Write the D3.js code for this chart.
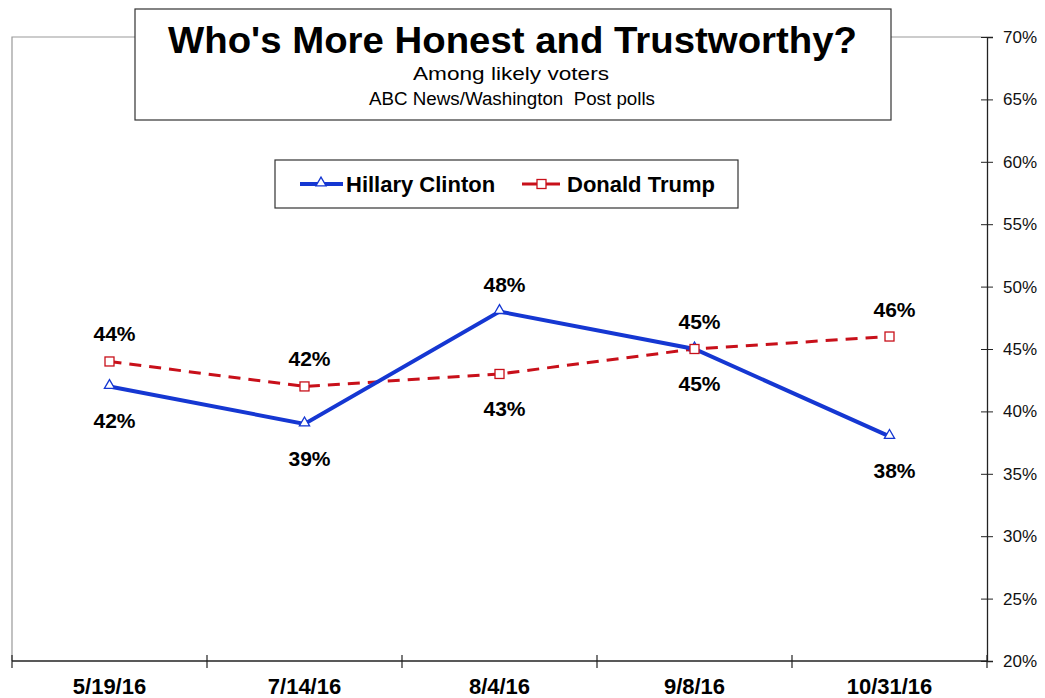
<!DOCTYPE html>
<html>
  <head>
    <meta charset="utf-8">
    <script src="https://d3js.org/d3.v7.min.js"></script>
    <style>
      body { margin: 0; background: #fff; }
      text { font-family: "Liberation Sans", Arial, sans-serif; }
    </style>
  </head>
  <body>
    <div id="chart"></div>
    <script type="text/javascript">
    // data
    var dates = ["5/19/16", "7/14/16", "8/4/16", "9/8/16", "10/31/16"];
    var clinton = [42, 39, 48, 45, 38];
    var trump = [44, 42, 43, 45, 46];
    var yTicks = [20, 25, 30, 35, 40, 45, 50, 55, 60, 65, 70];

    var width = 1045, height = 698;

    var svg = d3.select("#chart")
      .append("svg")
      .attr("width", width)
      .attr("height", height);

    //scales
    var x = d3.scaleBand().domain(dates).range([12, 987]);
    var y = d3.scaleLinear().domain([20, 70]).range([661, 37]);

    //gray frame on left and top
    svg.append("path")
      .attr("d", "M12,661V37H987")
      .attr("fill", "none")
      .attr("stroke", "#999")
      .attr("stroke-width", 1.2);

    //right y axis
    var yAxis = d3.axisRight(y)
      .tickValues(yTicks)
      .tickSize(6)
      .tickFormat(function(d){ return d + "%"; });
    var gy = svg.append("g").attr("transform", "translate(987,0)").call(yAxis);
    gy.select(".domain").attr("stroke", "#222").attr("stroke-width", 1.3);
    gy.selectAll(".tick line").attr("x1", -6).attr("x2", 6).attr("stroke", "#222");
    gy.selectAll(".tick text")
      .attr("x", 16)
      .attr("fill", "#111")
      .style("font-size", "17px")
      .style("font-family", "'Liberation Sans', Arial, sans-serif");

    //bottom x axis, ticks between categories
    svg.append("line")
      .attr("x1", 12).attr("x2", 987)
      .attr("y1", y(20)).attr("y2", y(20))
      .attr("stroke", "#222").attr("stroke-width", 1.3);
    var bounds = dates.map(function(d){ return x(d); }).concat([x.range()[1]]);
    svg.selectAll(".xtick")
      .data(bounds)
      .enter().append("line")
      .attr("class", "xtick")
      .attr("x1", function(d){ return d; }).attr("x2", function(d){ return d; })
      .attr("y1", y(20) - 6).attr("y2", y(20) + 7)
      .attr("stroke", "#222").attr("stroke-width", 1.2);
    svg.selectAll(".xlab")
      .data(dates)
      .enter().append("text")
      .attr("class", "xlab")
      .attr("x", function(d){ return x(d) + x.bandwidth() / 2; })
      .attr("y", 694)
      .attr("text-anchor", "middle")
      .style("font-size", "22px")
      .style("font-weight", "bold")
      .text(function(d){ return d; });

    var cx = function(d, i){ return x(dates[i]) + x.bandwidth() / 2; };

    //lines
    var line = d3.line()
      .x(function(d, i){ return cx(d, i); })
      .y(function(d){ return y(d); });

    svg.append("path")
      .datum(trump)
      .attr("d", line)
      .attr("fill", "none")
      .attr("stroke", "#c8101a")
      .attr("stroke-width", 3)
      .attr("stroke-dasharray", "12,8");

    svg.append("path")
      .datum(clinton)
      .attr("d", line)
      .attr("fill", "none")
      .attr("stroke", "#1537d2")
      .attr("stroke-width", 4);

    //markers
    var tri = d3.symbol().type(d3.symbolTriangle).size(45);
    svg.selectAll(".tri")
      .data(clinton)
      .enter().append("path")
      .attr("class", "tri")
      .attr("d", tri)
      .attr("transform", function(d, i){ return "translate(" + cx(d, i) + "," + (y(d) - 1) + ")"; })
      .attr("fill", "#fff")
      .attr("stroke", "#1537d2")
      .attr("stroke-width", 1.3);

    svg.selectAll(".sq")
      .data(trump)
      .enter().append("rect")
      .attr("class", "sq")
      .attr("x", function(d, i){ return cx(d, i) - 4.5; })
      .attr("y", function(d){ return y(d) - 4.5; })
      .attr("width", 9).attr("height", 9)
      .attr("fill", "#fff")
      .attr("stroke", "#c8101a")
      .attr("stroke-width", 1.3);

    //value labels: higher series above, lower below (trump above on ties)
    function addLabels(vals, other, isTrump){
      svg.selectAll(null)
        .data(vals)
        .enter().append("text")
        .attr("x", function(d, i){ return cx(d, i) + 5; })
        .attr("y", function(d, i){
          var above = isTrump ? d >= other[i] : d > other[i];
          return above ? y(d) - 20 : y(d) + 42;
        })
        .attr("text-anchor", "middle")
        .style("font-size", "21px")
        .style("font-weight", "bold")
        .text(function(d){ return d + "%"; });
    }
    addLabels(clinton, trump, false);
    addLabels(trump, clinton, true);

    //title box
    svg.append("rect")
      .attr("x", 135).attr("y", 9)
      .attr("width", 756).attr("height", 111)
      .attr("fill", "#fff").attr("stroke", "#333").attr("stroke-width", 1.2);
    svg.append("text")
      .attr("x", 168).attr("y", 53)
      .attr("textLength", 689)
      .attr("lengthAdjust", "spacingAndGlyphs")
      .style("font-size", "36px").style("font-weight", "bold")
      .text("Who's More Honest and Trustworthy?");
    svg.append("text")
      .attr("x", 413).attr("y", 80)
      .attr("textLength", 196)
      .attr("lengthAdjust", "spacingAndGlyphs")
      .style("font-size", "19px")
      .text("Among likely voters");
    svg.append("text")
      .attr("x", 369).attr("y", 105)
      .attr("textLength", 286)
      .attr("lengthAdjust", "spacingAndGlyphs")
      .style("font-size", "18px")
      .attr("xml:space", "preserve")
      .text("ABC News/Washington  Post polls");

    //legend
    svg.append("rect")
      .attr("x", 275).attr("y", 160)
      .attr("width", 463).attr("height", 48)
      .attr("fill", "#fff").attr("stroke", "#333").attr("stroke-width", 1.2);
    var ly = 184;
    svg.append("line").attr("x1", 300).attr("x2", 343).attr("y1", ly).attr("y2", ly)
      .attr("stroke", "#1537d2").attr("stroke-width", 4);
    svg.append("path").attr("d", tri)
      .attr("transform", "translate(321," + (ly - 1) + ")")
      .attr("fill", "#fff").attr("stroke", "#1537d2").attr("stroke-width", 1.3);
    svg.append("text").attr("x", 346).attr("y", ly + 8)
      .style("font-size", "22px").style("font-weight", "bold")
      .text("Hillary Clinton");
    svg.append("line").attr("x1", 522).attr("x2", 560).attr("y1", ly).attr("y2", ly)
      .attr("stroke", "#c8101a").attr("stroke-width", 3);
    svg.append("rect").attr("x", 537).attr("y", ly - 4.5).attr("width", 9).attr("height", 9)
      .attr("fill", "#fff").attr("stroke", "#c8101a").attr("stroke-width", 1.3);
    svg.append("text").attr("x", 567).attr("y", ly + 8)
      .style("font-size", "22px").style("font-weight", "bold")
      .text("Donald Trump");
    </script>
  </body>
</html>
